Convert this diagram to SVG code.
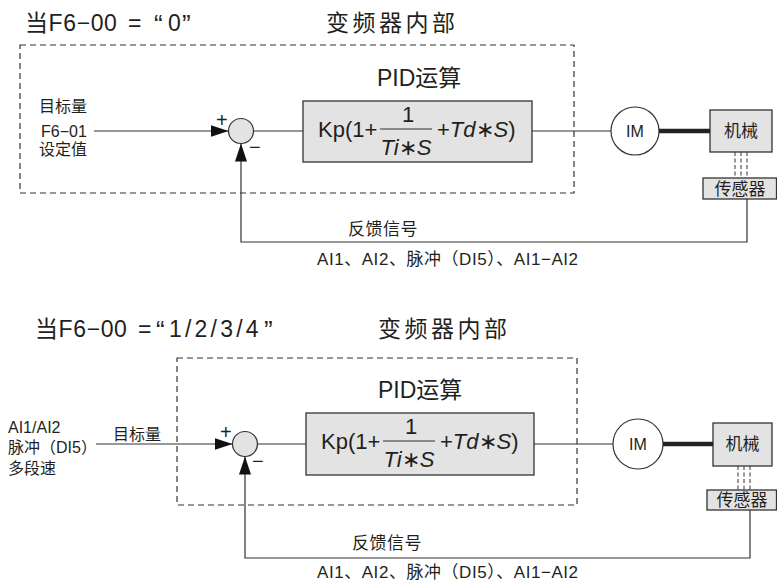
<svg xmlns="http://www.w3.org/2000/svg" width="777" height="582" viewBox="0 0 777 582">
<style>
text{font-family:"Liberation Sans","Noto Sans CJK SC",sans-serif;fill:#231f20}
.t{font-size:23px}
.q{font-size:26px}
.h{font-size:23px;letter-spacing:3.5px}
.p{font-size:23px}
.f{font-size:22px}
.l{font-size:16px}
.s{font-size:17px}
.sg{font-size:20px}
.it{font-style:italic}
.dash{fill:none;stroke:#333;stroke-width:1.2;stroke-dasharray:6 4}
.blk{fill:#e3e3e3;stroke:#333;stroke-width:1.3}
.sum{fill:#e3e3e3;stroke:#333;stroke-width:1.2}
.im{fill:#fff;stroke:#333;stroke-width:1.2}
.ln{fill:none;stroke:#333;stroke-width:1.2}
.thick{stroke:#222;stroke-width:4.5}
.dot{stroke:#333;stroke-width:1;stroke-dasharray:4 2.5}
</style>
<defs>
<marker id="arr" viewBox="0 0 18 12" refX="18" refY="6" markerWidth="18" markerHeight="12" markerUnits="userSpaceOnUse" orient="auto">
<path d="M0,0 L18,6 L0,12 z" fill="#111"/>
</marker>
</defs>

<!-- ===== Top section ===== -->
<g id="title-top">
<text class="t" x="25" y="31" letter-spacing="0.6">当F6−00</text>
<text class="t" x="128" y="31">=</text>
<text class="q" x="154" y="33">“</text>
<text class="t" x="168" y="31">0</text>
<text class="q" x="182" y="33">”</text>
<text class="h" x="326" y="31">变频器内部</text>
</g>
<g id="inverter-top"><rect class="dash" x="20" y="45" width="554" height="148"/></g>
<g id="input-top">
<text class="l" x="39" y="112">目标量</text>
<text class="l" x="41" y="137">F6−01</text>
<text class="l" x="39" y="155">设定值</text>
</g>
<g id="sum-top">
<circle class="sum" cx="241" cy="131" r="12.5"/>
<text class="sg" x="216" y="127">+</text>
<text class="sg" x="249" y="154">−</text>
</g>
<g id="pid-top">
<text class="p" x="377" y="86">PID运算</text>
<rect class="blk" x="303" y="101" width="229" height="61"/>
<text class="f" x="318" y="137">Kp(1+</text>
<text class="f" x="408" y="122" text-anchor="middle">1</text>
<line class="ln" x1="380" y1="129" x2="432" y2="129"/>
<text class="f" x="406" y="155" text-anchor="middle"><tspan class="it">Ti</tspan>∗<tspan class="it">S</tspan></text>
<text class="f" x="437" y="137">+<tspan class="it">Td</tspan>∗<tspan class="it">S</tspan>)</text>
</g>
<g id="im-top">
<circle class="im" cx="635" cy="131" r="24"/>
<text class="l" x="635" y="137" text-anchor="middle">IM</text>
</g>
<g id="mech-top">
<rect class="blk" x="710" y="110" width="62" height="42"/>
<text class="s" x="741" y="137" text-anchor="middle">机械</text>
</g>
<g id="sensor-top">
<rect class="blk" x="703" y="178" width="73.5" height="21"/>
<text class="s" x="740" y="195" text-anchor="middle">传感器</text>
</g>
<g id="labels-top">
<text class="s" x="348" y="235" letter-spacing="0.5">反馈信号</text>
<text class="s" x="317" y="265" letter-spacing="0.55">AI1、AI2、脉冲（DI5）、AI1−AI2</text>
</g>

<!-- ===== Bottom section ===== -->
<g id="title-bottom">
<text class="t" x="35" y="337" letter-spacing="0.6">当F6−00</text>
<text class="t" x="138" y="337">=</text>
<text class="q" x="156" y="339">“</text>
<text class="t" x="169" y="337" letter-spacing="3.2">1/2/3/4</text>
<text class="q" x="264" y="339">”</text>
<text class="h" x="378" y="337">变频器内部</text>
</g>
<g id="inverter-bottom"><rect class="dash" x="177" y="358" width="400" height="147"/></g>
<g id="input-bottom">
<text class="l" x="8" y="433">AI1/AI2</text>
<text class="l" x="8" y="453">脉冲（DI5）</text>
<text class="l" x="8" y="474">多段速</text>
<text class="l" x="113" y="440">目标量</text>
</g>
<g id="sum-bottom">
<circle class="sum" cx="245" cy="444" r="12.5"/>
<text class="sg" x="220" y="439">+</text>
<text class="sg" x="252" y="468">−</text>
</g>
<g id="pid-bottom">
<text class="p" x="378" y="398">PID运算</text>
<rect class="blk" x="306" y="413" width="228" height="62"/>
<text class="f" x="321" y="449">Kp(1+</text>
<text class="f" x="411" y="434" text-anchor="middle">1</text>
<line class="ln" x1="383" y1="441" x2="435" y2="441"/>
<text class="f" x="409" y="467" text-anchor="middle"><tspan class="it">Ti</tspan>∗<tspan class="it">S</tspan></text>
<text class="f" x="440" y="449">+<tspan class="it">Td</tspan>∗<tspan class="it">S</tspan>)</text>
</g>
<g id="im-bottom">
<circle class="im" cx="638" cy="444" r="25"/>
<text class="l" x="638" y="450" text-anchor="middle">IM</text>
</g>
<g id="mech-bottom">
<rect class="blk" x="713" y="423" width="59" height="43"/>
<text class="s" x="742.5" y="450" text-anchor="middle">机械</text>
</g>
<g id="sensor-bottom">
<rect class="blk" x="707" y="490" width="69.5" height="20"/>
<text class="s" x="742" y="506" text-anchor="middle">传感器</text>
</g>
<g id="labels-bottom">
<text class="s" x="352" y="549" letter-spacing="0.5">反馈信号</text>
<text class="s" x="317" y="578" letter-spacing="0.55">AI1、AI2、脉冲（DI5）、AI1−AI2</text>
</g>

<!-- ===== Connectors ===== -->
<g id="connectors">
<line class="ln" x1="94" y1="131" x2="228.5" y2="131" marker-end="url(#arr)"/>
<line class="ln" x1="253.5" y1="131" x2="303" y2="131"/>
<line class="ln" x1="532" y1="131" x2="611" y2="131"/>
<line class="thick" x1="659" y1="131" x2="710" y2="131"/>
<line class="dot" x1="735" y1="152" x2="735" y2="178"/>
<line class="dot" x1="741" y1="152" x2="741" y2="178"/>
<line class="dot" x1="747" y1="152" x2="747" y2="178"/>
<path class="ln" d="M747,199 V242 H241 V143.5" marker-end="url(#arr)"/>

<line class="ln" x1="96" y1="444" x2="232.5" y2="444" marker-end="url(#arr)"/>
<line class="ln" x1="257.5" y1="444" x2="306" y2="444"/>
<line class="ln" x1="534" y1="444" x2="613" y2="444"/>
<line class="thick" x1="663" y1="444" x2="713" y2="444"/>
<line class="dot" x1="738" y1="466" x2="738" y2="490"/>
<line class="dot" x1="744" y1="466" x2="744" y2="490"/>
<line class="dot" x1="750" y1="466" x2="750" y2="490"/>
<path class="ln" d="M750,510 V558 H245 V456.5" marker-end="url(#arr)"/>
</g>
</svg>
